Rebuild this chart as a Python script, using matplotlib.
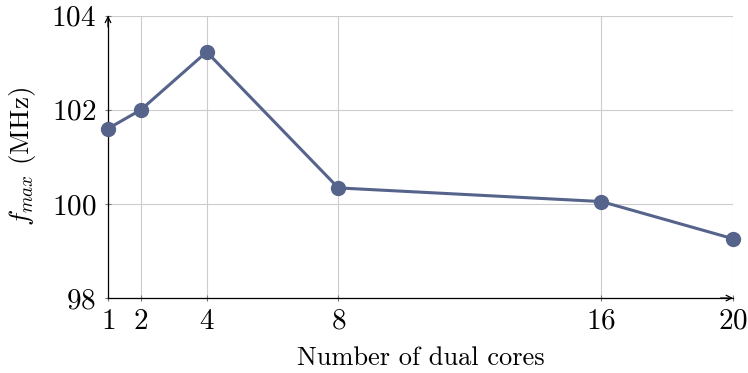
import matplotlib.pyplot as plt

plt.rcParams['font.family'] = 'cmr10'
plt.rcParams['mathtext.fontset'] = 'cm'
plt.rcParams['axes.unicode_minus'] = False
plt.rcParams['axes.formatter.use_mathtext'] = True

# data
cores = [1, 2, 4, 8, 16, 20]
fmax = [101.6, 102.0, 103.23, 100.34, 100.05, 99.26]
yticks = [98, 100, 102, 104]

line_color = '#56648c'

fig = plt.figure(figsize=(7.48, 3.73), dpi=100)
ax = fig.add_axes([0.1444, 0.201, 0.8356, 0.757])

ax.plot(cores, fmax, color=line_color, linewidth=2.2, marker='o',
        markersize=10, zorder=3, clip_on=False)

ax.set_xlim(1, 20)
ax.set_ylim(98, 104)
ax.set_xticks(cores)
ax.set_yticks(yticks)
ax.grid(True, color='#cccccc', linewidth=0.8)
ax.set_axisbelow(True)

for s in ['top', 'right']:
    ax.spines[s].set_visible(False)
for s in ['left', 'bottom']:
    ax.spines[s].set_linewidth(0.9)

# axis arrows
ax.annotate('', xy=(1.0, 0), xytext=(0.98, 0), xycoords='axes fraction',
            arrowprops=dict(arrowstyle='->', color='black', lw=0.9,
                            shrinkA=0, shrinkB=0))
ax.annotate('', xy=(0, 1.0), xytext=(0, 0.96), xycoords='axes fraction',
            arrowprops=dict(arrowstyle='->', color='black', lw=0.9,
                            shrinkA=0, shrinkB=0))

ax.tick_params(direction='inout', length=5, width=0.8, color='#777777',
               labelsize=21)
ax.tick_params(axis='y', pad=6)
ax.tick_params(axis='x', pad=5)

ax.set_xlabel('Number of dual cores', fontsize=19, labelpad=8)
ax.set_ylabel(r'$f_{max}$ (MHz)', fontsize=19.5, labelpad=10)

fig.savefig('out.png', dpi=100)
